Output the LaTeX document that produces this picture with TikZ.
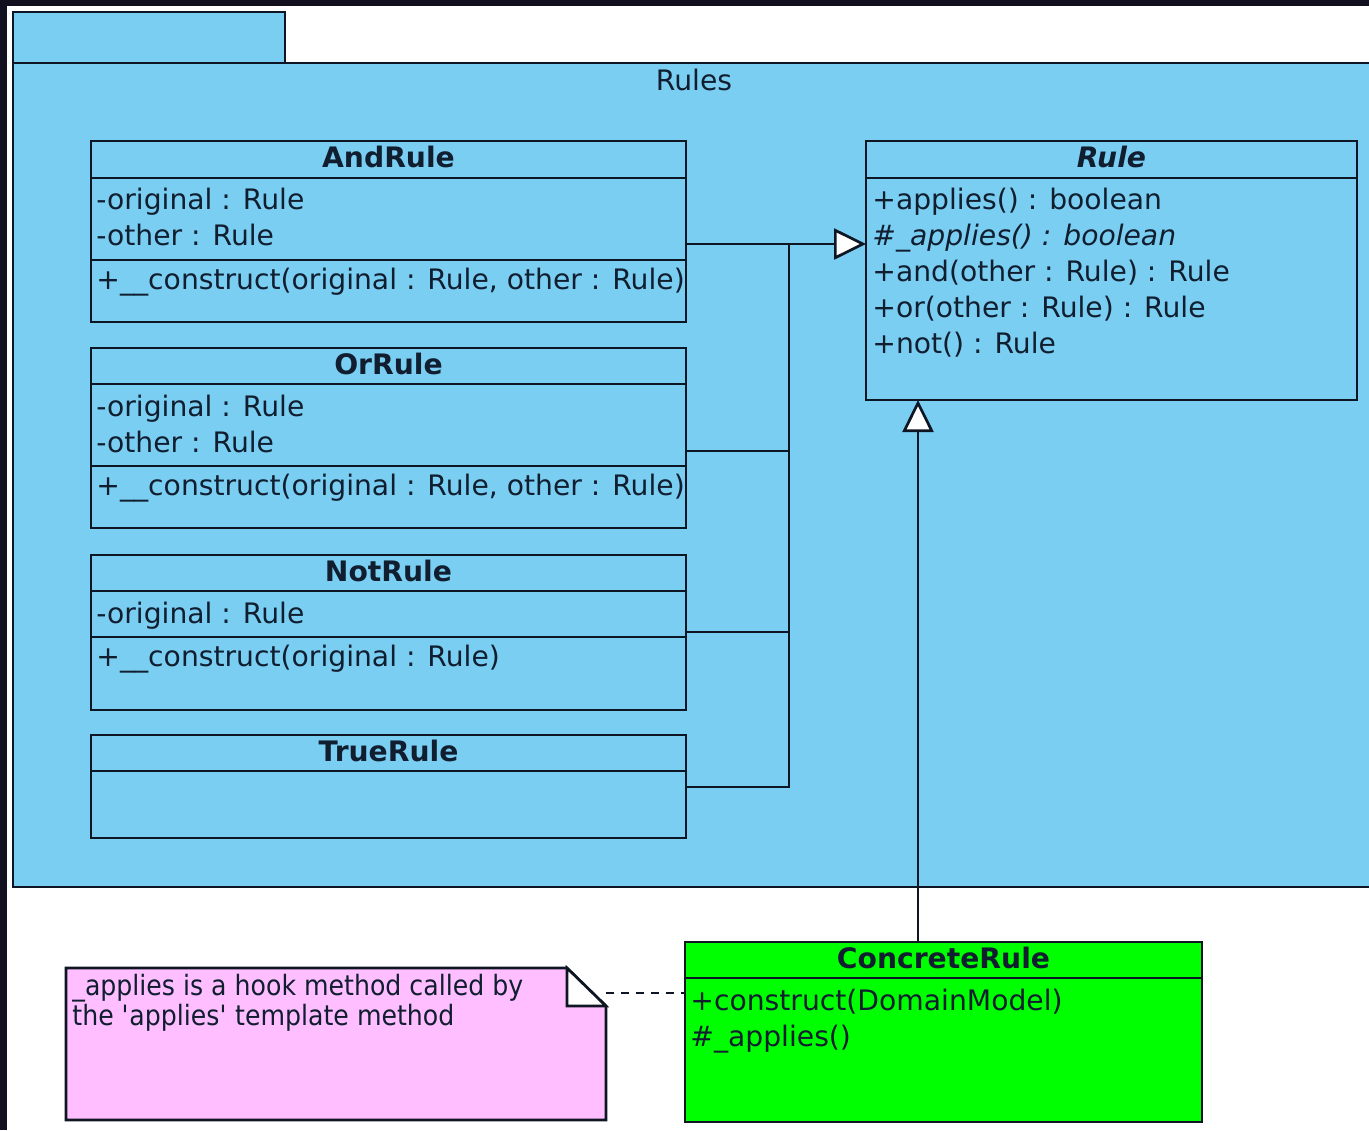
\documentclass[tikz,border=0pt]{standalone}
\usepackage{fontspec}
\setmainfont{DejaVu Sans}
\newfontfamily\notefont[FakeStretch=0.9]{DejaVu Sans}
\usetikzlibrary{arrows.meta,calc}

\definecolor{pkgblue}{RGB}{122,206,242}
\definecolor{notepink}{RGB}{255,190,255}
\definecolor{crgreen}{RGB}{0,255,0}
\definecolor{framedark}{RGB}{18,16,31}
\definecolor{ink}{RGB}{14,22,36}
\definecolor{txtink}{RGB}{16,30,48}

% horizontal compartment divider inside a class box, #2 px below its top
\newcommand{\compline}[2]{\draw[conn] ($(#1.north west)+(0,#2)$) -- ($(#1.north east)+(0,#2)$);}

\begin{document}
\begin{tikzpicture}[x=0.5pt,y=-0.5pt,
  box/.style={draw=ink, line width=1.35pt, rectangle, inner sep=0pt, outer sep=0pt, anchor=north west},
  cls/.style={box, fill=pkgblue},
  title/.style={font=\fontsize{14.1}{16}\selectfont\bfseries, text=txtink, anchor=base, inner sep=0pt},
  member/.style={font=\fontsize{14.1}{16}\selectfont, text=txtink, anchor=base west, inner sep=0pt},
  notetext/.style={font=\notefont\fontsize{14}{16}\selectfont, text=txtink, anchor=base west, inner sep=0pt},
  conn/.style={draw=ink, line width=1.35pt},
  gen/.style={conn, -{Triangle[open,length=16pt,width=15.5pt,fill=white]}},
]
% canvas and dark window frame
\fill[white] (0,0) rectangle (1369,1130);
\useasboundingbox (0,0) rectangle (1369,1130);
\fill[framedark] (0,0) rectangle (1369,6);
\fill[framedark] (0,0) rectangle (7,1130);

% package "Rules"
\node[box, fill=pkgblue, minimum width=136pt, minimum height=25.5pt] (pkgtab) at (13,12) {};
\node[box, fill=pkgblue, minimum width=690pt, minimum height=412pt] (pkg) at (13,63) {};
\node[member, anchor=base] (pkglabel) at (694,90) {Rules};

% AndRule
\node[cls, minimum width=297.5pt, minimum height=90.5pt] (AndRule) at (91,141) {};
\compline{AndRule}{37}
\compline{AndRule}{119}
\node[title] (AndRuleT) at ($(AndRule.north)+(0,26)$) {AndRule};
\node[member] (AndRuleA1) at ($(AndRule.north west)+(5,68)$) {-original : Rule};
\node[member] (AndRuleA2) at ($(AndRule.north west)+(5,104)$) {-other : Rule};
\node[member] (AndRuleM1) at ($(AndRule.north west)+(5,148)$) {+\_\_construct(original : Rule, other : Rule)};

% OrRule
\node[cls, minimum width=297.5pt, minimum height=90pt] (OrRule) at (91,348) {};
\compline{OrRule}{36}
\compline{OrRule}{118}
\node[title] (OrRuleT) at ($(OrRule.north)+(0,26)$) {OrRule};
\node[member] (OrRuleA1) at ($(OrRule.north west)+(5,68)$) {-original : Rule};
\node[member] (OrRuleA2) at ($(OrRule.north west)+(5,104)$) {-other : Rule};
\node[member] (OrRuleM1) at ($(OrRule.north west)+(5,147)$) {+\_\_construct(original : Rule, other : Rule)};

% NotRule
\node[cls, minimum width=297.5pt, minimum height=77.5pt] (NotRule) at (91,555) {};
\compline{NotRule}{36}
\compline{NotRule}{82}
\node[title] (NotRuleT) at ($(NotRule.north)+(0,26)$) {NotRule};
\node[member] (NotRuleA1) at ($(NotRule.north west)+(5,68)$) {-original : Rule};
\node[member] (NotRuleM1) at ($(NotRule.north west)+(5,111)$) {+\_\_construct(original : Rule)};

% TrueRule
\node[cls, minimum width=297.5pt, minimum height=51.5pt] (TrueRule) at (91,735) {};
\compline{TrueRule}{36}
\node[title] (TrueRuleT) at ($(TrueRule.north)+(0,26)$) {TrueRule};

% abstract Rule
\node[cls, minimum width=245.5pt, minimum height=129.5pt] (Rule) at (866,141) {};
\compline{Rule}{37}
\node[title, font=\fontsize{14.1}{16}\selectfont\bfseries\itshape] (RuleT) at ($(Rule.north)+(0,26)$) {Rule};
\node[member] (RuleM1) at ($(Rule.north west)+(6,68)$) {+applies() : boolean};
\node[member, font=\fontsize{14.1}{16}\selectfont\itshape] (RuleM2) at ($(Rule.north west)+(6,104)$) {\#\_applies() : boolean};
\node[member] (RuleM3) at ($(Rule.north west)+(6,140)$) {+and(other : Rule) : Rule};
\node[member] (RuleM4) at ($(Rule.north west)+(6,176)$) {+or(other : Rule) : Rule};
\node[member] (RuleM5) at ($(Rule.north west)+(6,212)$) {+not() : Rule};

% ConcreteRule
\node[box, fill=crgreen, minimum width=258.5pt, minimum height=90pt] (ConcreteRule) at (685,942) {};
\compline{ConcreteRule}{36}
\node[title] (ConcreteRuleT) at ($(ConcreteRule.north)+(0,26)$) {ConcreteRule};
\node[member] (ConcreteRuleM1) at ($(ConcreteRule.north west)+(5,68)$) {+construct(DomainModel)};
\node[member] (ConcreteRuleM2) at ($(ConcreteRule.north west)+(5,104)$) {\#\_applies()};

% note with folded corner
\node[box, draw=none, minimum width=270pt, minimum height=76pt] (note) at (66,968) {};
\coordinate (foldA) at ($(note.north east)+(-39,0)$);
\coordinate (foldB) at ($(note.north east)+(0,38)$);
\filldraw[conn, fill=notepink] (note.north west) -- (foldA) -- (foldB) -- (note.south east) -- (note.south west) -- cycle;
\filldraw[conn, fill=white] (foldA) -- (foldA |- foldB) -- (foldB) -- cycle;
\node[notetext] (noteL1) at ($(note.north west)+(6,27)$) {\_applies is a hook method called by};
\node[notetext] (noteL2) at ($(note.north west)+(6,57)$) {the \textquotesingle applies\textquotesingle\ template method};

% generalisation tree into Rule
\coordinate (jTop) at (789,244);
\coordinate (jOr) at (789,451);
\coordinate (jNot) at (789,632);
\coordinate (jTrue) at (789,787);
\draw[gen] (AndRule.east |- jTop) -- (Rule.west |- jTop);
\draw[conn] (OrRule.east |- jOr) -- (jOr);
\draw[conn] (NotRule.east |- jNot) -- (jNot);
\draw[conn] (TrueRule.east |- jTrue) -- (jTrue) -- (jTop);

% ConcreteRule extends Rule
\coordinate (vx) at (918,0);
\draw[gen] (ConcreteRule.north -| vx) -- (Rule.south -| vx);

% note anchor
\draw[conn, line width=1pt, dash pattern=on 4pt off 3.5pt] (note.east |- 0,993) -- (ConcreteRule.west |- 0,993);
\end{tikzpicture}
\end{document}
